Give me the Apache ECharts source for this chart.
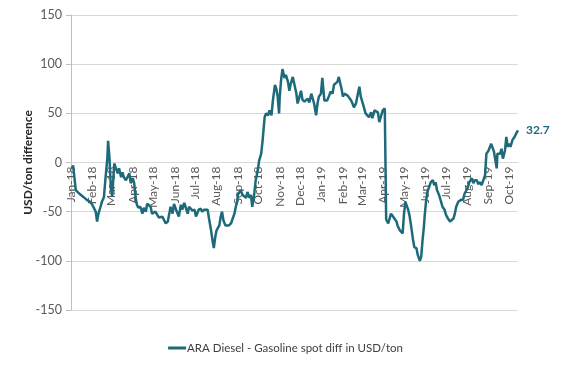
<!DOCTYPE html>
<html>
<head>
<meta charset="utf-8">
<script src="https://cdn.jsdelivr.net/npm/echarts@6/dist/echarts.min.js"></script>
<style>html,body{margin:0;padding:0;background:#fff}#c{width:571px;height:380px}</style>
</head>
<body>
<div id="c"></div>
<script>
const seriesName = 'ARA Diesel - Gasoline spot diff in USD/ton';
const yTicks = [-150, -100, -50, 0, 50, 100, 150];
const monthNames = ['Jan','Feb','Mar','Apr','May','Jun','Jul','Aug','Sep','Oct','Nov','Dec'];
const dates = [
'2018-01-02','2018-01-04','2018-01-08','2018-01-12','2018-01-19','2018-01-24','2018-01-29','2018-02-01','2018-02-06','2018-02-08',
'2018-02-10','2018-02-13','2018-02-15','2018-02-18','2018-02-20','2018-02-23','2018-02-24','2018-02-26','2018-02-28','2018-03-02',
'2018-03-05','2018-03-07','2018-03-10','2018-03-12','2018-03-15','2018-03-17','2018-03-19','2018-03-22','2018-03-27','2018-03-29',
'2018-04-01','2018-04-03','2018-04-05','2018-04-07','2018-04-09','2018-04-12','2018-04-15','2018-04-17','2018-04-20','2018-04-22',
'2018-04-27','2018-04-29','2018-05-04','2018-05-09','2018-05-14','2018-05-19','2018-05-22','2018-05-26','2018-05-29','2018-05-31',
'2018-06-03','2018-06-07','2018-06-10','2018-06-12','2018-06-15','2018-06-17','2018-06-20','2018-06-22','2018-06-27','2018-06-30',
'2018-07-02','2018-07-06','2018-07-09','2018-07-11','2018-07-14','2018-07-16','2018-07-19','2018-07-21','2018-07-24','2018-07-26',
'2018-07-28','2018-07-30','2018-08-01','2018-08-05','2018-08-07','2018-08-09','2018-08-11','2018-08-14','2018-08-19','2018-08-22',
'2018-08-24','2018-08-27','2018-08-29','2018-08-31','2018-09-01','2018-09-05','2018-09-08','2018-09-13','2018-09-15','2018-09-18',
'2018-09-20','2018-09-22','2018-09-25','2018-09-27','2018-09-30','2018-10-02','2018-10-05','2018-10-07','2018-10-10','2018-10-12',
'2018-10-15','2018-10-17','2018-10-20','2018-10-22','2018-10-25','2018-10-27','2018-10-29','2018-10-31','2018-11-01','2018-11-03',
'2018-11-05','2018-11-08','2018-11-10','2018-11-13','2018-11-15','2018-11-17','2018-11-20','2018-11-22','2018-11-25','2018-11-27',
'2018-11-29','2018-12-02','2018-12-04','2018-12-07','2018-12-09','2018-12-12','2018-12-14','2018-12-17','2018-12-19','2018-12-21',
'2018-12-24','2018-12-26','2018-12-28','2018-12-31','2019-01-02','2019-01-05','2019-01-09','2019-01-12','2019-01-14','2019-01-17',
'2019-01-19','2019-01-24','2019-01-26','2019-01-28','2019-01-30','2019-02-01','2019-02-03','2019-02-08','2019-02-13','2019-02-15',
'2019-02-17','2019-02-20','2019-02-22','2019-02-25','2019-02-27','2019-03-02','2019-03-04','2019-03-06','2019-03-11','2019-03-14',
'2019-03-16','2019-03-19','2019-03-24','2019-03-26','2019-03-28','2019-03-31','2019-04-03','2019-04-05','2019-04-08','2019-04-12',
'2019-04-15','2019-04-17','2019-04-20','2019-04-22','2019-04-25','2019-04-27','2019-04-29','2019-05-01','2019-05-03','2019-05-04',
'2019-05-07','2019-05-09','2019-05-11','2019-05-14','2019-05-16','2019-05-19','2019-05-21','2019-05-24','2019-05-26','2019-05-28',
'2019-05-30','2019-05-31','2019-06-02','2019-06-04','2019-06-07','2019-06-09','2019-06-12','2019-06-14','2019-06-16','2019-06-18',
'2019-06-21','2019-06-24','2019-06-26','2019-06-29','2019-07-01','2019-07-04','2019-07-07','2019-07-09','2019-07-12','2019-07-14',
'2019-07-16','2019-07-19','2019-07-21','2019-07-23','2019-07-26','2019-07-28','2019-07-31','2019-08-02','2019-08-04','2019-08-08',
'2019-08-10','2019-08-12','2019-08-15','2019-08-17','2019-08-20','2019-08-22','2019-08-24','2019-08-27','2019-08-29','2019-09-01',
'2019-09-03','2019-09-05','2019-09-07','2019-09-09','2019-09-11','2019-09-13','2019-09-14','2019-09-16','2019-09-18','2019-09-20',
'2019-09-22','2019-09-25','2019-09-27','2019-09-29','2019-10-01','2019-10-03','2019-10-06','2019-10-09','2019-10-11','2019-10-14'
];
const values = [
-6,-3,-28,-31,-35,-38,-40,-43,-50,-60,
-52,-45,-40,-35,-18,5,22,5,-25,-35,
-1,-5,-11,-6,-15,-10,-15,-18,-11,-21,
-16,-21,-35,-43,-46,-45,-52,-46,-50,-42,
-45,-52,-50,-56,-55,-62,-60,-45,-52,-42,
-48,-55,-43,-48,-41,-40,-52,-45,-49,-48,
-55,-48,-47,-50,-48,-50,-48,-57,-69,-79,
-87,-76,-69,-64,-55,-50,-59,-64,-64,-62,
-60,-52,-45,-40,-33,-28,-33,-36,-30,-36,
-33,-45,-31,-18,-8,2,9,22,46,50,
48,53,48,63,79,75,67,50,67,84,
95,86,89,82,73,80,87,89,71,60,
65,73,64,62,60,65,61,70,65,60,
48,60,67,70,86,63,63,68,72,70,
79,82,87,89,75,67,70,68,63,60,
56,60,67,77,67,60,55,50,46,51,
45,53,51,41,46,53,55,-58,-62,-52,
-55,-55,-60,-65,-69,-71,-72,-52,-40,-41,
-48,-54,-63,-78,-86,-87,-94,-100,-96,-79,
-65,-55,-40,-30,-24,-20,-18,-23,-20,-28,
-33,-40,-45,-48,-53,-57,-60,-62,-57,-52,
-45,-40,-41,-38,-38,-32,-28,-25,-20,-16,
-21,-18,-18,-22,-20,-23,-23,-13,9,12,
11,19,21,11,10,-6,9,8,9,14,
4,12,26,16,19,16,23,26,29,32.7
];
const xMin = '2018-01-01';
const xMax = '2019-10-14';

const gridTop = 15, gridBottom = 70, chartH = 380;
const plotH = chartH - gridTop - gridBottom;
// distance from the bottom of the plot to the zero value line
const zeroOffset = plotH * (0 - yTicks[0]) / (yTicks[yTicks.length - 1] - yTicks[0]);

const chart = echarts.init(document.getElementById('c'), null, {renderer: 'canvas'});
const lineColor = '#1d6a7b';
const fontFam = 'Lato, "Noto Sans", sans-serif';
chart.setOption({
  animation: false,
  backgroundColor: '#fff',
  grid: {left: 71, right: 53, top: gridTop, bottom: gridBottom},
  legend: {
    bottom: 21, left: 'center',
    data: [seriesName],
    icon: 'rect', itemWidth: 18, itemHeight: 3, itemGap: 2,
    textStyle: {color: '#404040', fontSize: 11.5, fontFamily: fontFam, padding: [0, 0, 0, -4]}
  },
  xAxis: {
    type: 'time',
    min: xMin, max: xMax,
    offset: -zeroOffset,
    splitNumber: 22,
    minInterval: 28 * 86400000,
    maxInterval: 31 * 86400000,
    axisLine: {show: true, onZero: false, lineStyle: {color: '#d9d9d9', width: 1}},
    axisTick: {show: false},
    splitLine: {show: false},
    axisLabel: {
      rotate: 90, margin: 4,
      color: '#595959', fontSize: 12, fontFamily: fontFam,
      formatter: function (v) {
        const d = new Date(v);
        return monthNames[d.getMonth()] + '-' + String(d.getFullYear()).slice(2);
      }
    }
  },
  yAxis: {
    type: 'value',
    min: yTicks[0], max: yTicks[yTicks.length - 1], interval: 50,
    name: 'USD/ton difference',
    nameLocation: 'middle', nameGap: 37, nameMoveOverlap: false,
    nameTextStyle: {color: '#262626', fontSize: 12, fontWeight: 'bold', fontFamily: fontFam},
    axisLine: {show: true, lineStyle: {color: '#bfbfbf'}},
    axisTick: {show: true, length: 5, lineStyle: {color: '#bfbfbf'}},
    splitLine: {lineStyle: {color: '#d9d9d9'}},
    axisLabel: {color: '#595959', fontSize: 12.5, fontFamily: fontFam, margin: 9}
  },
  series: [{
    name: seriesName,
    type: 'line',
    data: dates.map((d, i) => [d, values[i]]),
    showSymbol: false, symbol: 'none',
    lineStyle: {color: lineColor, width: 2.5},
    itemStyle: {color: lineColor},
    endLabel: {
      show: true, distance: 8,
      color: lineColor, fontWeight: 'bold', fontSize: 12, fontFamily: fontFam,
      formatter: function (p) { return String(p.value[1]); }
    }
  }]
});
</script>
</body>
</html>
